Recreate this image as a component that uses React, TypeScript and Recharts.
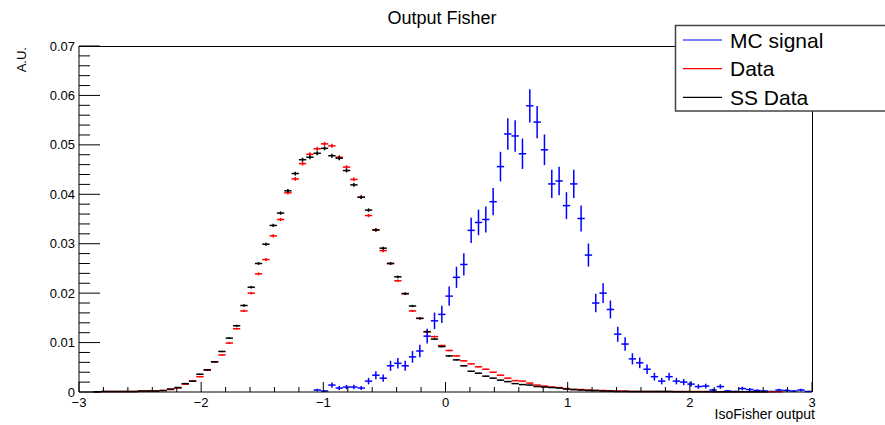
import React from "react";
import { ScatterChart, Scatter, XAxis, YAxis, ErrorBar } from "recharts";

// 100 bins from -3 to 3
const BIN_LO = -3;
const BIN_W = 0.06;

const DATA = [
  0, 0, 0.00005, 0.0001, 0.0001, 0.0001, 0.0001, 0.0001, 0.0002, 0.0002,
  0.0002, 0.0003, 0.0005, 0.0008, 0.0016, 0.0022, 0.0031, 0.0044, 0.0061, 0.0075,
  0.0099, 0.0128, 0.0164, 0.02, 0.0239, 0.0268, 0.0316, 0.0349, 0.0403, 0.0431,
  0.0462, 0.0481, 0.0492, 0.0502, 0.0498, 0.0475, 0.0455, 0.043, 0.0394, 0.0357,
  0.0328, 0.0286, 0.026, 0.0225, 0.0199, 0.0164, 0.0149, 0.0122, 0.0112, 0.0094,
  0.0084, 0.0073, 0.0063, 0.0057, 0.0051, 0.0046, 0.004, 0.0034, 0.0028, 0.0023,
  0.0022, 0.0018, 0.0014, 0.0012, 0.001, 0.0009, 0.0007, 0.0005, 0.0005, 0.0004,
  0.0003, 0.0003, 0.0002, 0.0002, 0.0002, 0.0001, 0.0001, 0.0001, 0.0001, 0.0001,
  0.0001, 0.0001, 0.0001, 0.0001, 0.0001, 0.0001, 0.00005, 0.00005, 0.00005, 0.00005,
  0.00005, 0.00005, 0.00005, 0.00005, 0.00005, 0.00005, 0, 0, 0, 0,
];

const SS_DATA = [
  0, 0, 0.00005, 0.0001, 0.0001, 0.0001, 0.0001, 0.0001, 0.0002, 0.0002,
  0.0002, 0.0003, 0.0006, 0.0009, 0.0017, 0.0022, 0.0036, 0.0045, 0.0061, 0.0082,
  0.0109, 0.0134, 0.0175, 0.0212, 0.026, 0.0299, 0.0337, 0.0362, 0.0407, 0.0442,
  0.047, 0.0475, 0.0483, 0.0493, 0.0478, 0.0473, 0.0448, 0.0419, 0.0394, 0.0368,
  0.0328, 0.0291, 0.026, 0.0233, 0.0199, 0.0174, 0.0149, 0.0122, 0.0107, 0.0092,
  0.0073, 0.0065, 0.0053, 0.0042, 0.0038, 0.0032, 0.0028, 0.0024, 0.0021, 0.0017,
  0.0015, 0.0014, 0.0011, 0.001, 0.0009, 0.0008, 0.0006, 0.0005, 0.0004, 0.0003,
  0.0003, 0.0002, 0.0002, 0.0001, 0.0001, 0.0001, 0.0001, 0.0001, 0.0001, 0.0001,
  0.0001, 0.00005, 0.00005, 0.00005, 0.00005, 0.00005, 0.00005, 0.00005, 0.00005, 0.00005,
  0.00005, 0.00005, 0.00005, 0.00005, 0, 0, 0, 0, 0, 0,
];

const MC_SIGNAL = [
  0, 0, 0, 0, 0, 0, 0, 0, 0, 0,
  0, 0, 0, 0, 0, 0, 0, 0, 0, 0,
  0, 0, 0, 0, 0, 0, 0, 0, 0, 0,
  0, 0, 0.0004, 0.0002, 0.0014, 0.0008, 0.001, 0.001, 0.0008, 0.0022,
  0.0034, 0.0028, 0.0053, 0.0058, 0.0053, 0.0071, 0.0083, 0.0113, 0.0144, 0.0157,
  0.0194, 0.0232, 0.0258, 0.0327, 0.0343, 0.0349, 0.0385, 0.0456, 0.0522, 0.0518,
  0.0482, 0.0579, 0.0546, 0.049, 0.0421, 0.0427, 0.0377, 0.0421, 0.0351, 0.0277,
  0.018, 0.02, 0.0167, 0.0117, 0.0097, 0.0067, 0.0059, 0.0046, 0.0031, 0.0022,
  0.0031, 0.0022, 0.002, 0.0016, 0.0011, 0.0012, 0.0004, 0.0011, 0.0002, 0.0001,
  0.0007, 0.0005, 0.0003, 0.0002, 0.0001, 0.0004, 0.0003, 0.0002, 0.0004, 0.0001,
];

// poisson-like error scale per sample
const ERR_DATA = 0.0018;
const ERR_MC = 0.014;

const X_MAJOR = [-3, -2, -1, 0, 1, 2, 3];
const X_LABELS = ["\u22123", "\u22122", "\u22121", "0", "1", "2", "3"];
const Y_MAJOR = [0, 0.01, 0.02, 0.03, 0.04, 0.05, 0.06, 0.07];
const Y_LABELS = ["0", "0.01", "0.02", "0.03", "0.04", "0.05", "0.06", "0.07"];

const X_TICKS: number[] = [];
for (let i = 0; i <= 30; i++) X_TICKS.push(Math.round((-3 + 0.2 * i) * 10) / 10);
const Y_TICKS: number[] = [];
for (let i = 0; i <= 35; i++) Y_TICKS.push(Math.round(i * 2) / 1000);

const FONT = "'Liberation Sans', Arial, sans-serif";

function toPoints(vals: number[], k: number) {
  return vals
    .map((v, i) => ({
      x: BIN_LO + BIN_W * (i + 0.5),
      y: v,
      ex: BIN_W / 2,
      ey: k * Math.sqrt(v),
    }))
    .filter((p) => p.y > 0);
}

const mcPts = toPoints(MC_SIGNAL, ERR_MC);
const dataPts = toPoints(DATA, ERR_DATA);
const ssPts = toPoints(SS_DATA, ERR_DATA);

function findIdx(list: number[], v: number) {
  return list.findIndex((m) => Math.abs(m - v) < 1e-9);
}

function YTick(props: any) {
  const { x, y, payload } = props;
  const idx = findIdx(Y_MAJOR, payload.value);
  const len = idx >= 0 ? 21 : 11;
  return (
    <g>
      <line x1={x} x2={x + len} y1={y} y2={y} stroke="#000" strokeWidth={1} />
      {idx >= 0 && (
        <text x={x - 4} y={y + 4.5} textAnchor="end" fontSize={13} fontFamily={FONT} fill="#000">
          {Y_LABELS[idx]}
        </text>
      )}
    </g>
  );
}

function XTick(props: any) {
  const { x, y, payload } = props;
  const idx = findIdx(X_MAJOR, payload.value);
  const len = idx >= 0 ? 10 : 5;
  return (
    <g>
      <line x1={x} x2={x} y1={y} y2={y - len} stroke="#000" strokeWidth={1} />
      {idx >= 0 && (
        <text x={x} y={y + 15} textAnchor="middle" fontSize={13} fontFamily={FONT} fill="#000">
          {X_LABELS[idx]}
        </text>
      )}
    </g>
  );
}

const noMarker = () => <g />;

const LEGEND = [
  { name: "MC signal", color: "#0000ff" },
  { name: "Data", color: "#ff0000" },
  { name: "SS Data", color: "#000000" },
];

export default function App() {
  return (
    <div style={{ position: "absolute", left: 0, top: 0, width: 885, height: 425, background: "#fff" }}>
      <ScatterChart width={885} height={425} margin={{ top: 46, right: 73, bottom: 0, left: 0 }}>
        <XAxis
          type="number"
          dataKey="x"
          domain={[-3, 3]}
          ticks={X_TICKS}
          interval={0}
          height={33}
          tickSize={0}
          tickMargin={0}
          tickLine={false}
          tick={<XTick />}
          axisLine={{ stroke: "#000" }}
          allowDataOverflow
        />
        <YAxis
          type="number"
          dataKey="y"
          domain={[0, 0.07]}
          ticks={Y_TICKS}
          interval={0}
          width={79}
          tickSize={0}
          tickMargin={0}
          tickLine={false}
          tick={<YTick />}
          axisLine={{ stroke: "#000" }}
          allowDataOverflow
        />
        <Scatter data={mcPts} shape={noMarker} isAnimationActive={false}>
          <ErrorBar dataKey="ey" direction="y" width={0} stroke="#0000ff" strokeWidth={1.5} />
          <ErrorBar dataKey="ex" direction="x" width={0} stroke="#0000ff" strokeWidth={1.5} />
        </Scatter>
        <Scatter data={dataPts} shape={noMarker} isAnimationActive={false}>
          <ErrorBar dataKey="ey" direction="y" width={0} stroke="#ff0000" strokeWidth={1.5} />
          <ErrorBar dataKey="ex" direction="x" width={0} stroke="#ff0000" strokeWidth={1.5} />
        </Scatter>
        <Scatter data={ssPts} shape={noMarker} isAnimationActive={false}>
          <ErrorBar dataKey="ey" direction="y" width={0} stroke="#000000" strokeWidth={1.5} />
          <ErrorBar dataKey="ex" direction="x" width={0} stroke="#000000" strokeWidth={1.5} />
        </Scatter>
      </ScatterChart>

      <svg
        width={885}
        height={425}
        style={{ position: "absolute", left: 0, top: 0, pointerEvents: "none" }}
        fontFamily={FONT}
      >
        {/* frame top + right */}
        <line x1={79} x2={812} y1={46.5} y2={46.5} stroke="#000" />
        <line x1={812.5} x2={812.5} y1={46} y2={392} stroke="#000" />

        <text x={442} y={24} textAnchor="middle" fontSize={18} fill="#000">
          Output Fisher
        </text>
        <text x={815} y={419} textAnchor="end" fontSize={14} fill="#000">
          IsoFisher output
        </text>
        <text transform="translate(25.5,47) rotate(-90)" textAnchor="end" fontSize={13} fill="#000">
          A.U.
        </text>

        <rect x={675.5} y={25.5} width={220} height={85.5} fill="#fff" stroke="#444" strokeWidth={1.5} />
        {LEGEND.map((e, i) => {
          const cy = 40 + i * 28.7;
          return (
            <g key={e.name}>
              <line x1={683} x2={722} y1={cy} y2={cy} stroke={e.color} strokeWidth={1.2} />
              <text x={730} y={cy + 7.5} fontSize={21} fill="#000">
                {e.name}
              </text>
            </g>
          );
        })}
      </svg>
    </div>
  );
}
